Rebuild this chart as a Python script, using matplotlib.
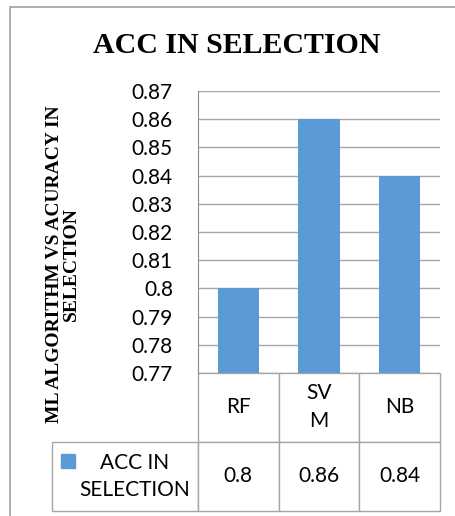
import numpy as np
import matplotlib.pyplot as plt
from matplotlib.patches import Rectangle

# accuracy of each classifier in the selection step
algorithms = ["RF", "SVM", "NB"]
header_labels = ["RF", "SV\nM", "NB"]
acc = [0.80, 0.86, 0.84]
series_name = "ACC IN\nSELECTION"

bar_color = "#5b9bd5"
line_color = "#a6a6a6"
sans = "Lato"
serif = "Liberation Serif"

fig = plt.figure(figsize=(4.56, 5.16), dpi=100)
ax = fig.add_axes([198 / 456, 1 - 373 / 516, 242 / 456, 282 / 516])

x = np.arange(len(algorithms))
ax.bar(x, acc, width=0.51, color=bar_color, zorder=3)
ax.set_xlim(-0.5, len(algorithms) - 0.5)
ax.set_ylim(0.77, 0.87)
ticks = np.round(np.arange(0.77, 0.8705, 0.01), 2)
ax.set_yticks(ticks)
ax.set_yticklabels([f"{t:g}" for t in ticks], fontsize=15, family=sans)
ax.set_xticks([])
ax.tick_params(axis="y", length=0, pad=18)
ax.grid(axis="y", color=line_color, linewidth=1, zorder=0)
for side in ["top", "right", "bottom"]:
    ax.spines[side].set_visible(False)
ax.spines["left"].set_color("#8c8c8c")

# data table under the bars
cells = [[""] + header_labels,
         [""] + [f"{v:g}" for v in acc]]
tbl = ax.table(cellText=cells, cellLoc="center",
               colWidths=[146 / 242] + [1 / 3] * 3,
               bbox=[-146 / 242, -138 / 282, 1 + 146 / 242, 138 / 282])
tbl.auto_set_font_size(False)
tbl.set_fontsize(15)
for (r, c), cell in tbl.get_celld().items():
    cell.set_edgecolor(line_color)
    cell.get_text().set_fontfamily(sans)
    cell.get_text().set_linespacing(1.5)
tbl[0, 0].visible_edges = ""

ax.text(-63 / 242, -103.5 / 282, series_name, transform=ax.transAxes,
        ha="center", va="center", multialignment="center",
        fontsize=15, family=sans, linespacing=1.45)
ax.add_patch(Rectangle((-137 / 242, -95 / 282), 14 / 242, 14 / 282,
                       transform=ax.transAxes, color=bar_color, clip_on=False))

fig.text(237 / 456, 1 - 53 / 516, "ACC IN SELECTION", ha="center", va="baseline",
         fontsize=21.5, fontweight="bold", family=serif)
fig.text(63 / 456, 1 - 264 / 516, "ML ALGORITHM VS ACURACY IN\nSELECTION",
         rotation=90, ha="center", va="center", multialignment="center",
         fontsize=14, fontweight="bold", family=serif, linespacing=1.0)

# chart frame
fig.patches.append(Rectangle((10 / 456, -0.1), 1.2, 1.1 - 7 / 516,
                             transform=fig.transFigure, fill=False,
                             edgecolor="#a0a0a0", linewidth=1.2))

fig.savefig("out.png", dpi=100)
